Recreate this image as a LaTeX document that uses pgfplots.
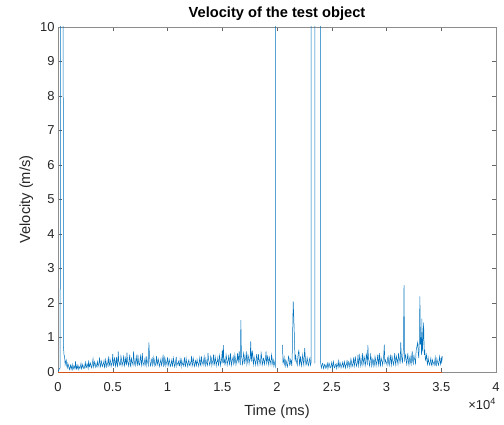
\documentclass[border=0pt]{standalone}
\usepackage{fontspec}
\setmainfont{Liberation Sans}
\usepackage{pgfplots}
\usepackage{pgfplotstable}
\pgfplotsset{compat=1.18}
\definecolor{mblue}{rgb}{0,0.447,0.741}
\definecolor{morange}{rgb}{0.85,0.325,0.098}
\definecolor{mtext}{rgb}{0.15,0.15,0.15}
\pgfplotstableread{
t v
0 0.05
50 0.03
100 0.08
150 0.1
200 0.12
320 50
360 50
500 0.72
550 0.5
600 0.45
650 0.22
700 0.3
750 0.35
800 0.18
850 0.12
900 0.25
950 0.2
1000 0.12
1050 0.07
1100 0.15
1150 0.2
1200 0.08
1250 0.14
1300 0.22
1350 0.06
1400 0.1
1450 0.18
1500 0.14
1550 0.09
1600 0.31
1650 0.14
1700 0.09
1750 0.2
1800 0.12
1850 0.07
1900 0.18
1950 0.13
2000 0.1
2050 0.17
2100 0.25
2150 0.09
2200 0.13
2250 0.22
2300 0.16
2350 0.1
2400 0.11
2450 0.19
2500 0.28
2550 0.12
2600 0.14
2650 0.24
2700 0.2
2750 0.11
2800 0.34
2850 0.15
2900 0.17
2950 0.26
3000 0.22
3050 0.12
3100 0.15
3150 0.27
3200 0.38
3250 0.14
3300 0.19
3350 0.3
3400 0.24
3450 0.13
3500 0.16
3550 0.22
3600 0.3
3650 0.15
3700 0.21
3750 0.28
3800 0.42
3850 0.14
3900 0.18
3950 0.32
4000 0.26
4050 0.16
4100 0.2
4150 0.25
4200 0.33
4250 0.13
4300 0.17
4350 0.36
4400 0.27
4450 0.15
4500 0.22
4550 0.28
4600 0.45
4650 0.17
4700 0.2
4750 0.38
4800 0.3
4850 0.16
4900 0.24
4950 0.29
5000 0.52
5050 0.18
5100 0.21
5150 0.4
5200 0.35
5250 0.17
5300 0.26
5350 0.44
5400 0.2
5450 0.16
5500 0.6
5550 0.3
5600 0.28
5650 0.19
5700 0.22
5750 0.46
5800 0.36
5850 0.18
5900 0.25
5950 0.32
6000 0.48
6050 0.17
6100 0.23
6150 0.4
6200 0.3
6250 0.19
6300 0.56
6350 0.3
6400 0.26
6450 0.18
6500 0.35
6550 0.5
6600 0.2
6650 0.16
6700 0.42
6750 0.3
6800 0.27
6850 0.2
6900 0.6
6950 0.34
7000 0.24
7050 0.18
7100 0.33
7150 0.45
7200 0.28
7250 0.17
7300 0.5
7350 0.3
7400 0.22
7450 0.2
7500 0.38
7550 0.47
7600 0.26
7650 0.18
7700 0.55
7750 0.3
7800 0.25
7850 0.19
7900 0.32
7950 0.4
8000 0.23
8050 0.17
8100 0.45
8150 0.3
8200 0.28
8250 0.2
8300 0.86
8350 0.5
8400 0.3
8450 0.18
8500 0.24
8550 0.35
8600 0.4
8650 0.19
8700 0.27
8750 0.42
8800 0.33
8850 0.17
8900 0.21
8950 0.3
9000 0.46
9050 0.2
9100 0.26
9150 0.38
9200 0.3
9250 0.16
9300 0.22
9350 0.3
9400 0.38
9450 0.19
9500 0.25
9550 0.36
9600 0.5
9650 0.17
9700 0.2
9750 0.42
9800 0.34
9850 0.18
9900 0.27
9950 0.3
10000 0.42
10050 0.17
10100 0.23
10150 0.37
10200 0.3
10250 0.16
10300 0.19
10350 0.28
10400 0.36
10450 0.18
10500 0.25
10550 0.4
10600 0.28
10650 0.15
10700 0.2
10750 0.32
10800 0.44
10850 0.17
10900 0.24
10950 0.26
11000 0.31
11050 0.2
11100 0.18
11150 0.38
11200 0.27
11250 0.16
11300 0.35
11350 0.25
11400 0.22
11450 0.18
11500 0.29
11550 0.42
11600 0.2
11650 0.17
11700 0.4
11750 0.28
11800 0.24
11850 0.16
11900 0.3
11950 0.35
12000 0.21
12050 0.18
12100 0.26
12150 0.3
12200 0.47
12250 0.17
12300 0.23
12350 0.4
12400 0.32
12450 0.16
12500 0.2
12550 0.33
12600 0.28
12650 0.19
12700 0.36
12750 0.27
12800 0.24
12850 0.17
12900 0.3
12950 0.42
13000 0.22
13050 0.18
13100 0.45
13150 0.3
13200 0.27
13250 0.2
13300 0.33
13350 0.44
13400 0.25
13450 0.18
13500 0.38
13550 0.28
13600 0.24
13650 0.19
13700 0.55
13750 0.36
13800 0.3
13850 0.2
13900 0.26
13950 0.46
14000 0.4
14050 0.19
14100 0.28
14150 0.33
14200 0.5
14250 0.2
14300 0.25
14350 0.45
14400 0.34
14450 0.18
14500 0.29
14550 0.3
14600 0.42
14650 0.2
14700 0.26
14750 0.48
14800 0.36
14850 0.19
14900 0.3
14950 0.4
15000 0.62
15050 0.25
15100 0.78
15150 0.3
15200 0.35
15250 0.21
15300 0.28
15350 0.5
15400 0.4
15450 0.2
15500 0.3
15550 0.35
15600 0.5
15650 0.22
15700 0.27
15750 0.54
15800 0.36
15850 0.2
15900 0.32
15950 0.38
16000 0.45
16050 0.22
16100 0.28
16150 0.5
16200 0.38
16250 0.21
16300 0.3
16350 0.36
16400 0.55
16450 0.25
16500 0.42
16550 0.6
16600 0.33
16650 0.2
16700 1.5
16750 0.45
16800 0.4
16850 0.22
16900 0.3
16950 0.55
17000 0.48
17050 0.23
17100 0.35
17150 0.4
17200 0.6
17250 0.22
17300 0.3
17350 0.5
17400 0.42
17450 0.24
17500 0.36
17550 0.4
17600 0.89
17650 0.3
17700 0.5
17750 0.62
17800 0.34
17850 0.22
17900 0.45
17950 0.35
18000 0.3
18050 0.21
18100 0.4
18150 0.52
18200 0.28
18250 0.2
18300 0.52
18350 0.36
18400 0.35
18450 0.22
18500 0.3
18550 0.55
18600 0.44
18650 0.2
18700 0.27
18750 0.4
18800 0.38
18850 0.22
18900 0.32
18950 0.38
19000 0.6
19050 0.25
19100 0.34
19150 0.48
19200 0.29
19250 0.2
19300 0.42
19350 0.34
19400 0.3
19450 0.21
19500 0.5
19550 0.4
19600 0.26
19650 0.18
19700 0.35
19750 0.28
19800 0.2
19850 0.15
19930 80
20000 nan
20500 0.78
20550 0.25
20600 0.3
20650 0.42
20700 0.22
20750 0.16
20800 0.35
20850 0.3
20900 0.2
20950 0.15
21000 0.28
21050 0.45
21100 0.4
21150 0.2
21200 0.22
21250 0.36
21300 0.3
21350 0.18
21400 0.6
21480 2.05
21550 1.43
21650 0.3
21700 0.5
21750 0.35
21800 0.28
21850 0.2
21900 0.42
21950 0.55
22000 0.65
22050 0.22
22100 0.3
22150 0.45
22200 0.25
22250 0.18
22300 0.38
22350 0.5
22400 0.3
22450 0.2
22530 0.69
22600 0.35
22650 0.2
22700 0.26
22750 0.42
22800 0.32
22850 0.18
22900 0.22
22950 0.35
23000 0.4
23050 0.2
23120 0.28
23140 80
23440 80
23460 0.25
23500 nan
23950 80
23970 0.3
24050 0.12
24100 0.18
24150 0.25
24200 0.22
24250 0.1
24300 0.15
24350 0.22
24400 0.2
24450 0.11
24500 0.13
24550 0.2
24600 0.25
24650 0.1
24700 0.17
24750 0.26
24800 0.21
24850 0.12
24900 0.14
24950 0.2
25000 0.28
25050 0.11
25100 0.16
25150 0.3
25200 0.2
25250 0.12
25300 0.15
25350 0.22
25400 0.24
25450 0.1
25500 0.18
25550 0.2
25600 0.32
25650 0.13
25700 0.16
25750 0.28
25800 0.22
25850 0.12
25900 0.19
25950 0.22
26000 0.28
26050 0.13
26100 0.17
26150 0.3
26200 0.23
26250 0.12
26300 0.2
26350 0.22
26400 0.35
26450 0.14
26500 0.19
26550 0.3
26600 0.26
26650 0.13
26700 0.22
26750 0.38
26800 0.3
26850 0.15
26900 0.2
26950 0.28
27000 0.42
27050 0.16
27100 0.25
27150 0.45
27200 0.3
27250 0.17
27300 0.22
27350 0.3
27400 0.5
27450 0.18
27500 0.28
27550 0.48
27600 0.36
27650 0.17
27700 0.24
27750 0.35
27800 0.55
27850 0.2
27900 0.3
27950 0.45
28000 0.38
28050 0.18
28100 0.26
28150 0.52
28200 0.45
28250 0.2
28300 0.78
28350 0.4
28400 0.32
28450 0.18
28500 0.27
28550 0.5
28600 0.4
28650 0.17
28700 0.25
28750 0.38
28800 0.34
28850 0.16
28900 0.22
28950 0.45
29000 0.36
29050 0.18
29100 0.28
29150 0.35
29200 0.5
29250 0.2
29300 0.3
29350 0.55
29400 0.25
29450 0.18
29500 0.42
29550 0.35
29600 0.3
29650 0.2
29700 0.36
29750 0.5
29800 0.79
29850 0.22
29900 0.35
29950 0.3
30000 0.28
30050 0.2
30100 0.4
30150 0.45
30200 0.26
30250 0.19
30300 0.34
30350 0.5
30400 0.3
30450 0.2
30500 0.48
30550 0.35
30600 0.27
30650 0.21
30700 0.36
30750 0.55
30800 0.3
30850 0.2
30900 0.45
30950 0.38
31000 0.32
31050 0.22
31100 0.55
31150 0.42
31200 0.35
31250 0.24
31300 0.86
31350 0.5
31400 0.4
31450 0.25
31500 0.5
31550 0.7
31600 2.52
31650 0.3
31700 0.45
31750 0.5
31800 0.32
31850 0.22
31900 0.4
31950 0.55
32000 0.3
32050 0.2
32100 0.38
32150 0.45
32200 0.28
32250 0.22
32300 0.45
32350 0.6
32400 0.3
32450 0.24
32500 0.5
32550 0.38
32600 0.35
32650 0.25
32700 0.6
32750 0.7
32850 0.86
32900 0.55
32950 0.4
33000 0.9
33050 2.19
33100 0.8
33150 1.0
33200 0.5
33230 1.55
33270 0.6
33300 0.7
33350 1.1
33390 1.43
33450 0.5
33500 0.6
33550 0.35
33600 0.4
33650 0.5
33700 0.3
33750 0.22
33800 0.42
33850 0.3
33900 0.25
33950 0.2
34000 0.32
34050 0.4
34100 0.22
34150 0.18
34200 0.35
34250 0.28
34300 0.26
34350 0.2
34400 0.3
34450 0.42
34500 0.2
34550 0.18
34600 0.38
34650 0.3
34700 0.25
34750 0.2
34800 0.33
34850 0.45
34900 0.28
34950 0.22
35000 0.4
35050 0.3
35100 0.45
}\velo
\begin{document}
\begin{tikzpicture}
\begin{axis}[
  name=a,
  width=438bp, height=345bp, scale only axis,
  xmin=0, xmax=40000, ymin=0, ymax=10,
  xtick={0,5000,10000,15000,20000,25000,30000,35000,40000},
  ytick={0,1,2,3,4,5,6,7,8,9,10},
  scaled x ticks=base 10:-4,
  xtick scale label code/.code={×10\textsuperscript{4}},
  every x tick scale label/.style={at={(rel axis cs:1,0)}, anchor=north east, yshift=-19.5bp, inner sep=0pt, font=\fontsize{13}{15}\selectfont, text=mtext},
  xticklabel style={/pgf/number format/fixed, /pgf/number format/assume math mode=true, yshift=-7bp},
  yticklabel style={/pgf/number format/assume math mode=true},
  tick label style={font=\fontsize{13}{15}\selectfont, text=mtext},
  label style={font=\fontsize{14.7}{17}\selectfont, text=mtext},
  xlabel style={yshift=-6bp},
  title style={font=\bfseries\fontsize{14.7}{17}\selectfont, yshift=-3bp},
  title={Velocity of the test object},
  xlabel={Time (ms)},
  ylabel={Velocity (m/s)},
  tick align=inside,
  major tick length=4bp,
  axis line style={black!45, line width=0.6bp},
  every tick/.style={black!60, line width=0.5bp},
  unbounded coords=jump,
  clip=true,
]
\addplot[mblue, line width=0.5bp] table[x=t, y=v] {\velo};
\addplot[morange, line width=0.6bp] coordinates {(0,0) (35100,0)};
\end{axis}
\path ([shift={(-58bp,-53bp)}]a.south west) rectangle ([shift={(8bp,27bp)}]a.north east);
\end{tikzpicture}
\end{document}
